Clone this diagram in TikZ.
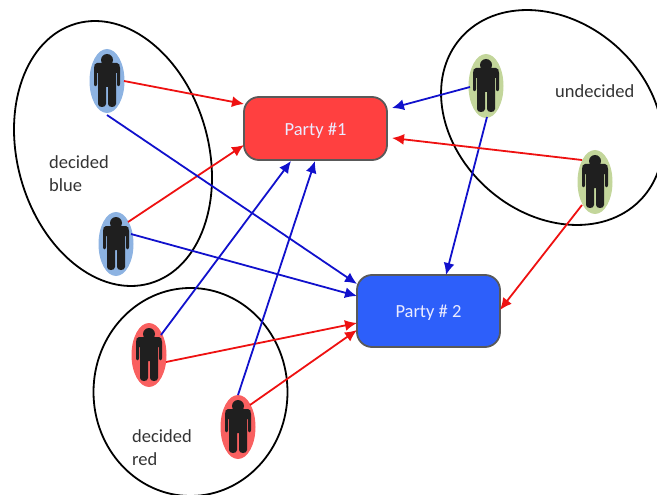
\documentclass[tikz,border=0pt]{standalone}
\usepackage{fontspec}
\setmainfont{Carlito}
\usetikzlibrary{shapes.geometric,arrows.meta}
\definecolor{cblue}{HTML}{8DB3E2}
\definecolor{cgreen}{HTML}{C3D69B}
\definecolor{cred}{HTML}{F96060}
\definecolor{lred}{HTML}{EE1111}
\definecolor{lblue}{HTML}{1111CC}
\definecolor{pone}{HTML}{FF4040}
\definecolor{ptwo}{HTML}{2D5FFA}
\tikzset{
 x=1pt,y=-1pt,
 grp/.style={shape=ellipse,draw=black,line width=1.8pt,inner sep=0pt},
 badge/.style={shape=ellipse,draw=none,fill=#1,minimum width=35pt,minimum height=64pt,inner sep=0pt},
 party/.style={draw=black!65,line width=1.8pt,rounded corners=15pt,fill=#1,text=white!92!blue,font=\fontsize{18.5}{22}\selectfont,inner sep=0pt,text depth=0pt},
 lab/.style={font=\fontsize{18.5}{23}\selectfont,text=black!80,align=left,anchor=west,inner sep=0pt},
 con/.style={draw=#1,line width=1.8pt,-{Latex[length=12pt,width=11pt]}},
}
\newcommand{\manicon}[1]{%
 \fill[black!88,shift={(#1)}] (0,-21) circle[radius=6pt];
 \fill[black!88,shift={(#1)}]
  (-10,-18) -- (10,-18) .. controls (12,-18) and (13,-16) .. (13,-13) -- (13,3)
  .. controls (13,6) and (10,6) .. (10,3) -- (10,-8) -- (9,-8) -- (9,23)
  .. controls (9,27) and (1,27) .. (1,23) -- (1,6) -- (-1,6) -- (-1,23)
  .. controls (-1,27) and (-9,27) .. (-9,23) -- (-9,-8) -- (-10,-8) -- (-10,3)
  .. controls (-10,6) and (-13,6) .. (-13,3) -- (-13,-13)
  .. controls (-13,-16) and (-12,-18) .. (-10,-18) -- cycle;%
}
\begin{document}
\begin{tikzpicture}
\useasboundingbox (0,0) rectangle (657,495);
\clip (0,0) rectangle (657,495);
% groups
\node[grp,minimum width=191pt,minimum height=270pt,rotate=15.8] (gblue) at (113,153.5) {};
\node[grp,minimum width=242pt,minimum height=192pt,rotate=-41] (gund) at (552,117.5) {};
\node[grp,minimum width=194pt,minimum height=208pt] (gred) at (190.5,392) {};
% people
\node[badge=cblue] (pa) at (107,81) {}; \manicon{107,81}
\node[badge=cblue] (pb) at (116,244) {}; \manicon{116,244}
\node[badge=cgreen] (pc) at (486,86) {}; \manicon{486,86}
\node[badge=cgreen] (pd) at (595,182) {}; \manicon{595,182}
\node[badge=cred] (pe) at (149,355) {}; \manicon{149,355}
\node[badge=cred] (pf) at (238,427) {}; \manicon{238,427}
% parties
\node[party=pone,minimum width=143pt,minimum height=63pt] (one) at (315.5,128.5) {\raisebox{-1pt}{Party \#1}};
\node[party=ptwo,minimum width=143pt,minimum height=72pt] (two) at (428.5,311) {\raisebox{-1pt}{Party \# 2}};
% labels
\node[lab] (l1) at (49,174) {decided\\blue};
\node[lab] (l2) at (555,91) {undecided};
\node[lab] (l3) at (132,448) {decided\\red};
% connector ends
\coordinate (s1) at (124,81);  \coordinate (e1) at (244,104);
\coordinate (s2) at (128,222); \coordinate (e2) at (244,145);
\coordinate (s3) at (107,115); \coordinate (e3) at (357,284);
\coordinate (s4) at (131,234); \coordinate (e4) at (357,296);
\coordinate (s5) at (161,335); \coordinate (e5) at (291,161);
\coordinate (s6) at (166,362); \coordinate (e6) at (357,323);
\coordinate (s7) at (238,395); \coordinate (e7) at (315,161);
\coordinate (s8) at (250,405); \coordinate (e8) at (357,330);
\coordinate (s9) at (470,87);  \coordinate (e9) at (392,108);
\coordinate (s10) at (487,117);\coordinate (e10) at (446,275);
\coordinate (s11) at (582,160);\coordinate (e11) at (392,138);
\coordinate (s12) at (582,205);\coordinate (e12) at (500,310);
\draw[con=lred] (s1) -- (e1);
\draw[con=lred] (s2) -- (e2);
\draw[con=lblue] (s3) -- (e3);
\draw[con=lblue] (s4) -- (e4);
\draw[con=lblue] (s5) -- (e5);
\draw[con=lred] (s6) -- (e6);
\draw[con=lblue] (s7) -- (e7);
\draw[con=lred] (s8) -- (e8);
\draw[con=lblue] (s9) -- (e9);
\draw[con=lblue] (s10) -- (e10);
\draw[con=lred] (s11) -- (e11);
\draw[con=lred] (s12) -- (e12);
\end{tikzpicture}
\end{document}
